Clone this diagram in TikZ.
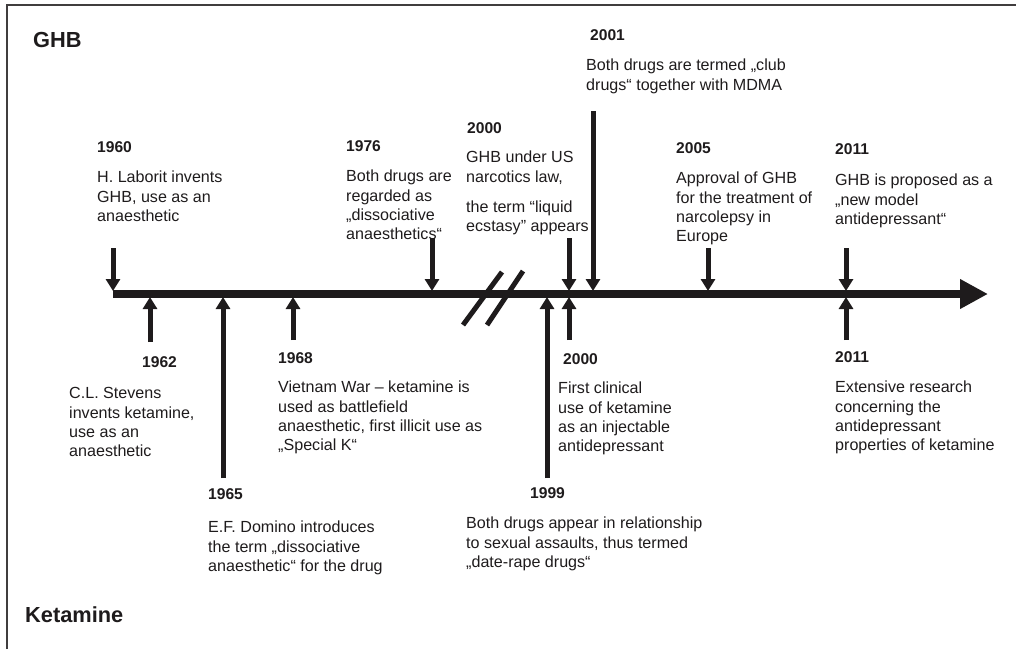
\documentclass[tikz,border=0pt]{standalone}
\usepackage{fontspec}
\setmainfont{Liberation Sans}
\usetikzlibrary{arrows.meta}
\definecolor{ink}{HTML}{1E1B1C}
\begin{document}
\begin{tikzpicture}[x=1pt,y=-1pt,
  yr/.style={anchor=base west, inner sep=0, font=\fontsize{15.6}{19}\selectfont\bfseries, text=ink},
  txt/.style={anchor=north west, inner sep=0, align=left, font=\fontsize{16.1}{19.3}\selectfont, text=ink},
  ttl/.style={anchor=base west, inner sep=0, font=\fontsize{21.8}{26}\selectfont\bfseries, text=ink},
  tick/.style={line width=5pt, draw=ink, -{Triangle[width=14pt,length=12pt]}},
  bar/.style={line width=8pt, draw=ink, -{Triangle[width=28pt,length=28pt]}},
  brk/.style={line width=5pt, draw=ink},
  frame/.style={line width=1.5pt, draw=ink!85}]
\useasboundingbox (0,0) rectangle (1016,649);
% frame
\coordinate (fl) at (7,649);
\coordinate (fc) at (7,5);
\coordinate (fr) at (1016,5);
\draw[frame] (fl) -- (fc) -- (fr);
% titles
\node[ttl] (ghb) at (33,47) {GHB};
\node[ttl] (ket) at (25,622) {Ketamine};
% main timeline
\coordinate (bs) at (113,294);
\coordinate (be) at (988,294);
\draw[bar] (bs) -- (be);
% break marks
\coordinate (k1a) at (502,272); \coordinate (k1b) at (463,325);
\coordinate (k2a) at (523,271); \coordinate (k2b) at (487,325);
\draw[brk] (k1a) -- (k1b);
\draw[brk] (k2a) -- (k2b);
% ---------- GHB (above) ----------
\node[yr] (y1960) at (97,152) {1960};
\node[txt] (t1960) at (97,169) {\strut H. Laborit invents\\GHB, use as an\\anaesthetic};
\coordinate (d1960s) at (113,248); \coordinate (d1960e) at (113,291);
\draw[tick] (d1960s) -- (d1960e);

\node[yr] (y1976) at (346,151) {1976};
\node[txt] (t1976) at (346,168) {\strut Both drugs are\\regarded as\\„dissociative\\anaesthetics“};
\coordinate (d1976s) at (432,238); \coordinate (d1976e) at (432,291);
\draw[tick] (d1976s) -- (d1976e);

\node[yr] (y2000g) at (467,133) {2000};
\node[txt] (t2000g) at (466,149) {\strut GHB under US\\narcotics law,\\[11pt]the term “liquid\\ecstasy” appears};
\coordinate (d2000s) at (569,238); \coordinate (d2000e) at (569,291);
\draw[tick] (d2000s) -- (d2000e);

\node[yr] (y2001) at (590,40) {2001};
\node[txt] (t2001) at (586,57) {\strut Both drugs are termed „club\\drugs“ together with MDMA};
\coordinate (d2001s) at (593,111); \coordinate (d2001e) at (593,291);
\draw[tick] (d2001s) -- (d2001e);

\node[yr] (y2005) at (676,153) {2005};
\node[txt] (t2005) at (676,170) {\strut Approval of GHB\\for the treatment of\\narcolepsy in\\Europe};
\coordinate (d2005s) at (708,248); \coordinate (d2005e) at (708,291);
\draw[tick] (d2005s) -- (d2005e);

\node[yr] (y2011g) at (835,154) {2011};
\node[txt] (t2011g) at (835,172) {\strut GHB is proposed as a\\„new model\\antidepressant“};
\coordinate (d2011s) at (846,248); \coordinate (d2011e) at (846,291);
\draw[tick] (d2011s) -- (d2011e);
% ---------- Ketamine (below) ----------
\coordinate (u1962s) at (150,342); \coordinate (u1962e) at (150,297);
\draw[tick] (u1962s) -- (u1962e);
\node[yr] (y1962) at (142,367) {1962};
\node[txt] (t1962) at (69,385) {\strut C.L. Stevens\\invents ketamine,\\use as an\\anaesthetic};

\coordinate (u1965s) at (223,478); \coordinate (u1965e) at (223,297);
\draw[tick] (u1965s) -- (u1965e);
\node[yr] (y1965) at (208,499) {1965};
\node[txt] (t1965) at (208,519) {\strut E.F. Domino introduces\\the term „dissociative\\anaesthetic“ for the drug};

\coordinate (u1968s) at (293,340); \coordinate (u1968e) at (293,297);
\draw[tick] (u1968s) -- (u1968e);
\node[yr] (y1968) at (278,363) {1968};
\node[txt] (t1968) at (278,379) {\strut Vietnam War – ketamine is\\used as battlefield\\anaesthetic, first illicit use as\\„Special K“};

\coordinate (u1999s) at (547,478); \coordinate (u1999e) at (547,297);
\draw[tick] (u1999s) -- (u1999e);
\node[yr] (y1999) at (530,498) {1999};
\node[txt] (t1999) at (466,515) {\strut Both drugs appear in relationship\\to sexual assaults, thus termed\\„date-rape drugs“};

\coordinate (u2000s) at (569,340); \coordinate (u2000e) at (569,297);
\draw[tick] (u2000s) -- (u2000e);
\node[yr] (y2000k) at (563,364) {2000};
\node[txt] (t2000k) at (558,380) {\strut First clinical\\use of ketamine\\as an injectable\\antidepressant};

\coordinate (u2011s) at (846,340); \coordinate (u2011e) at (846,297);
\draw[tick] (u2011s) -- (u2011e);
\node[yr] (y2011k) at (835,362) {2011};
\node[txt] (t2011k) at (835,379) {\strut Extensive research\\concerning the\\antidepressant\\properties of ketamine};
\end{tikzpicture}
\end{document}
